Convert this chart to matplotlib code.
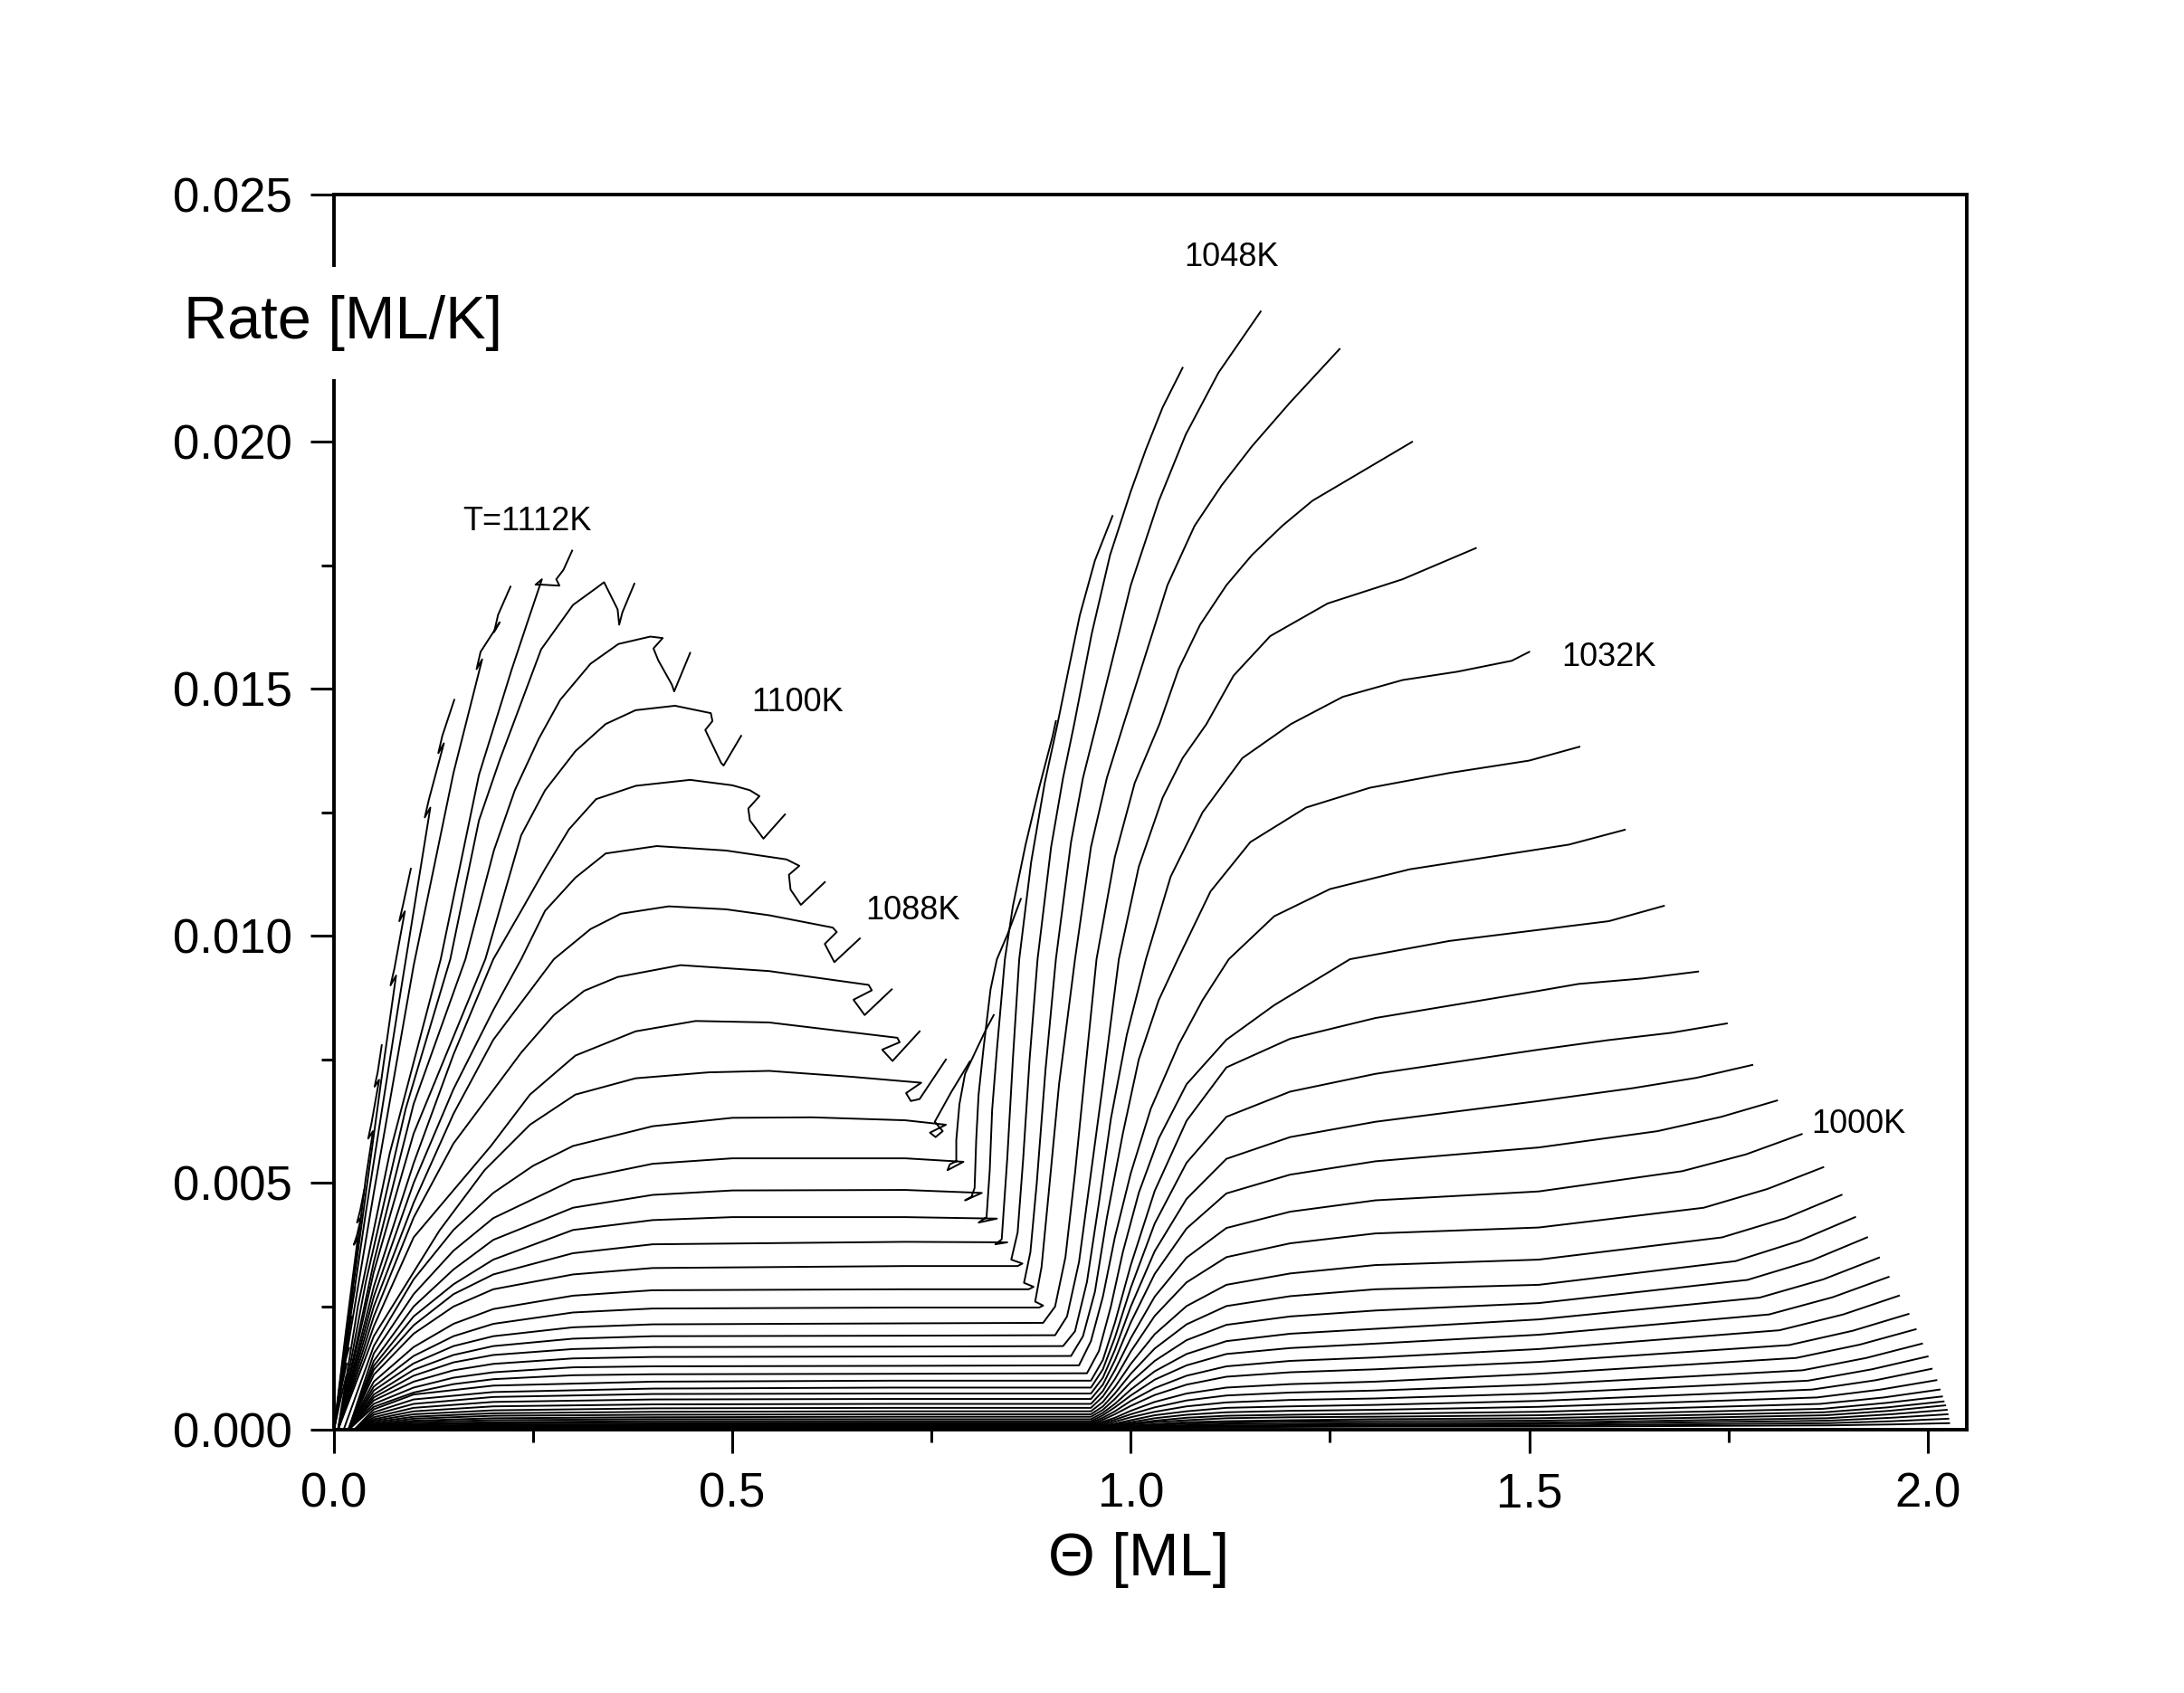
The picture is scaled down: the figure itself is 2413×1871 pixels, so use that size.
import matplotlib
matplotlib.use("Agg")
import matplotlib.pyplot as plt
from matplotlib.ticker import MultipleLocator, FormatStrFormatter

plt.rcParams['font.family'] = ['Liberation Sans', 'DejaVu Sans']

# all rates below are in units of 1e-3 ML/K, coverage theta in ML

# hottest curves (1144K .. 1116K): steep lines with small zig-zags at the top
z_temps = [1144, 1140, 1136, 1132, 1128, 1124, 1120, 1116]
z_theta = [
    [0, 0.008, 0.0155],
    [0, 0.010, 0.016, 0.012, 0.015, 0.019],
    [0, 0.012, 0.022, 0.018, 0.021, 0.0265],
    [0, 0.015, 0.030, 0.025, 0.029, 0.034, 0.029, 0.033, 0.038],
    [0, 0.02, 0.04, 0.049, 0.043, 0.047, 0.0568, 0.051, 0.055, 0.060],
    [0, 0.03, 0.06, 0.078, 0.071, 0.076, 0.089, 0.082, 0.087, 0.0965],
    [0, 0.04, 0.08, 0.121, 0.114, 0.119, 0.138, 0.131, 0.136, 0.151],
    [0, 0.05, 0.1, 0.15, 0.186, 0.179, 0.184, 0.208, 0.201, 0.206, 0.2215],
]
z_rate = [
    [0, 0.6, 1.1],
    [0, 0.9, 1.35, 1.3, 1.45, 1.66],
    [0, 1.3, 2.3, 2.2, 2.4, 2.88],
    [0, 2.0, 3.9, 3.75, 3.95, 4.3, 4.2, 4.45, 4.86],
    [0, 2.5, 5.1, 6.05, 5.9, 6.2, 7.09, 6.95, 7.25, 7.79],
    [0, 3.6, 7.15, 9.2, 9.0, 9.35, 10.5, 10.3, 10.65, 11.36],
    [0, 4.4, 8.5, 12.6, 12.4, 12.75, 13.9, 13.7, 14.05, 14.78],
    [0, 4.8, 9.4, 13.3, 15.6, 15.4, 15.75, 16.35, 16.15, 16.5, 17.07],
]

# 1112K .. 1072K: rise, maximum, hook at the end
h_temps = [1112, 1108, 1104, 1100, 1096, 1092, 1088, 1084, 1080, 1076, 1072]
h_theta = [
    [0.005, 0.03, 0.07, 0.134, 0.182, 0.223, 0.242, 0.261, 0.253, 0.262, 0.283, 0.279, 0.288, 0.299],
    [0.005, 0.04, 0.09, 0.146, 0.182, 0.208, 0.26, 0.30, 0.329, 0.339, 0.356, 0.358, 0.362, 0.377],
    [0.005, 0.05, 0.10, 0.165, 0.2007, 0.227, 0.257, 0.284, 0.322, 0.357, 0.397, 0.4126, 0.401, 0.407,
     0.424, 0.427, 0.447],
    [0.005, 0.05, 0.10, 0.19, 0.235, 0.265, 0.303, 0.341, 0.3785, 0.428, 0.473, 0.475, 0.466, 0.486,
     0.489, 0.511],
    [0.005, 0.05, 0.10, 0.15, 0.2, 0.235, 0.265, 0.295, 0.329, 0.379, 0.447, 0.50, 0.522, 0.534, 0.520,
     0.522, 0.539, 0.566],
    [0.005, 0.05, 0.10, 0.15, 0.20, 0.235, 0.265, 0.303, 0.341, 0.405, 0.492, 0.568, 0.584, 0.571, 0.573,
     0.586, 0.616],
    [0.005, 0.05, 0.10, 0.15, 0.20, 0.276, 0.322, 0.360, 0.420, 0.492, 0.546, 0.626, 0.631, 0.616,
     0.628, 0.660],
    [0.005, 0.05, 0.10, 0.15, 0.235, 0.276, 0.314, 0.356, 0.435, 0.546, 0.671, 0.675, 0.652, 0.666, 0.70],
    [0.005, 0.05, 0.10, 0.197, 0.246, 0.303, 0.3785, 0.454, 0.546, 0.707, 0.71, 0.688, 0.701, 0.735],
    [0.005, 0.05, 0.1325, 0.189, 0.246, 0.303, 0.3785, 0.47, 0.546, 0.65, 0.737, 0.718, 0.724, 0.735,
     0.768],
    [0.012, 0.05, 0.1, 0.15, 0.2, 0.25, 0.3, 0.4, 0.5, 0.6, 0.717, 0.768, 0.748, 0.755, 0.764, 0.754,
     0.775, 0.798],
]
h_rate = [
    [0, 2.5, 5.6, 9.53, 13.26, 15.39, 16.31, 17.22, 17.11, 17.11, 17.09, 17.22, 17.41, 17.8],
    [0, 3.0, 6.5, 9.53, 12.34, 13.56, 15.8, 16.7, 17.04, 17.16, 16.61, 16.3, 16.55, 17.13],
    [0, 3.4, 6.6, 9.53, 11.73, 12.95, 13.99, 14.78, 15.51, 15.91, 16.06, 16.03, 15.82, 15.58, 15.09,
     14.95, 15.73],
    [0, 3.2, 6.0, 9.53, 12.04, 12.95, 13.74, 14.29, 14.57, 14.66, 14.51, 14.35, 14.17, 13.5, 13.45, 14.05],
    [0, 2.9, 5.4, 7.6, 9.53, 10.51, 11.36, 12.16, 12.77, 13.04, 13.16, 13.05, 12.95, 12.83, 12.58,
     12.34, 11.97, 12.46],
    [0, 2.7, 5.0, 6.9, 8.5, 9.53, 10.51, 11.18, 11.67, 11.82, 11.73, 11.55, 11.42, 11.24, 10.94,
     10.63, 11.09],
    [0, 2.5, 4.6, 6.4, 7.9, 9.53, 10.14, 10.45, 10.6, 10.54, 10.42, 10.17, 10.08, 9.84, 9.47, 9.95],
    [0, 2.3, 4.3, 5.8, 7.64, 8.4, 8.89, 9.17, 9.41, 9.29, 9.01, 8.9, 8.71, 8.4, 8.92],
    [0, 2.1, 3.9, 5.75, 6.79, 7.58, 8.07, 8.28, 8.25, 7.94, 7.85, 7.7, 7.47, 8.07],
    [0, 1.9, 4.04, 5.26, 6.18, 6.79, 7.12, 7.24, 7.27, 7.15, 7.03, 6.82, 6.66, 6.70, 7.5],
    [0, 1.7, 3.05, 4.05, 4.8, 5.35, 5.75, 6.15, 6.32, 6.33, 6.27, 6.18, 6.02, 5.93, 6.05, 6.24,
     6.85, 7.46],
]

# 1068K .. 1020K: plateau, then steep second rise
t_temps = [1068, 1064, 1060, 1056, 1052, 1048, 1044, 1040, 1036, 1032, 1028, 1024, 1020]
t_theta = [
    [0.018, 0.05, 0.1, 0.15, 0.2, 0.3, 0.4, 0.5, 0.717, 0.790, 0.770, 0.773, 0.781, 0.781, 0.785,
     0.792, 0.808, 0.819, 0.828],
    [0.018, 0.05, 0.1, 0.15, 0.2, 0.3, 0.4, 0.5, 0.717, 0.813, 0.792, 0.800, 0.804, 0.806, 0.809,
     0.815, 0.824, 0.832, 0.845, 0.862],
    [0.018, 0.05, 0.1, 0.15, 0.2, 0.3, 0.4, 0.5, 0.717, 0.832, 0.809, 0.819, 0.823, 0.826, 0.832,
     0.842, 0.852, 0.868, 0.885, 0.902, 0.906],
    [0.018, 0.05, 0.1, 0.15, 0.2, 0.3, 0.4, 0.717, 0.845, 0.830, 0.838, 0.845, 0.852, 0.860, 0.875,
     0.892, 0.908, 0.922, 0.936, 0.955, 0.977],
    [0.018, 0.05, 0.1, 0.15, 0.2, 0.3, 0.4, 0.717, 0.858, 0.864, 0.850, 0.858, 0.865, 0.873, 0.883,
     0.900, 0.915, 0.929, 0.951, 0.974, 1.000, 1.019, 1.040, 1.065],
    [0.018, 0.05, 0.1, 0.15, 0.2, 0.3, 0.4, 0.717, 0.872, 0.878, 0.866, 0.874, 0.882, 0.893, 0.906,
     0.925, 0.940, 0.957, 0.985, 1.000, 1.035, 1.069, 1.110, 1.163],
    [0.018, 0.05, 0.1, 0.15, 0.2, 0.3, 0.4, 0.717, 0.885, 0.890, 0.880, 0.888, 0.897, 0.910, 0.930,
     0.950, 0.970, 0.991, 1.027, 1.046, 1.080, 1.114, 1.152, 1.200, 1.262],
    [0.018, 0.05, 0.1, 0.15, 0.2, 0.3, 0.4, 0.717, 0.890, 0.905, 0.918, 0.930, 0.943, 0.957, 0.980,
     1.005, 1.036, 1.060, 1.087, 1.120, 1.152, 1.190, 1.228, 1.290, 1.353],
    [0.018, 0.05, 0.1, 0.15, 0.2, 0.3, 0.4, 0.717, 0.905, 0.920, 0.935, 0.950, 0.965, 0.985, 1.010,
     1.040, 1.065, 1.095, 1.129, 1.175, 1.247, 1.341, 1.433],
    [0.018, 0.05, 0.1, 0.15, 0.2, 0.3, 0.4, 0.717, 0.915, 0.930, 0.945, 0.960, 0.975, 0.995, 1.019,
     1.050, 1.090, 1.140, 1.201, 1.266, 1.341, 1.410, 1.478, 1.500],
    [0.018, 0.05, 0.1, 0.15, 0.2, 0.3, 0.4, 0.717, 0.925, 0.940, 0.955, 0.970, 0.990, 1.010, 1.035,
     1.059, 1.100, 1.150, 1.220, 1.300, 1.400, 1.500, 1.563],
    [0.018, 0.05, 0.1, 0.15, 0.2, 0.3, 0.4, 0.717, 0.935, 0.950, 0.965, 0.980, 1.000, 1.025, 1.060,
     1.090, 1.123, 1.180, 1.250, 1.350, 1.450, 1.550, 1.620],
    [0.018, 0.05, 0.1, 0.15, 0.2, 0.3, 0.4, 0.717, 0.945, 0.960, 0.975, 0.990, 1.010, 1.035, 1.070,
     1.120, 1.180, 1.275, 1.400, 1.500, 1.600, 1.669],
]
t_rate = [
    [0, 1.55, 2.75, 3.63, 4.29, 5.06, 5.39, 5.50, 5.50, 5.43, 5.26, 5.38, 5.44, 5.87, 6.60, 7.21,
     7.76, 8.13, 8.40],
    [0, 1.40, 2.50, 3.25, 3.85, 4.50, 4.76, 4.85, 4.86, 4.80, 4.65, 4.72, 4.90, 5.87, 6.79, 7.70,
     8.92, 9.53, 10.02, 10.75],
    [0, 1.30, 2.30, 2.95, 3.45, 4.05, 4.25, 4.31, 4.31, 4.28, 4.20, 4.31, 5.26, 6.48, 7.70, 9.53,
     10.60, 11.85, 13.00, 14.05, 14.35],
    [0, 1.22, 2.12, 2.75, 3.15, 3.58, 3.76, 3.81, 3.80, 3.76, 3.86, 5.50, 7.50, 9.53, 11.50, 13.10,
     14.29, 15.40, 16.49, 17.60, 18.50],
    [0, 1.12, 1.95, 2.50, 2.85, 3.15, 3.28, 3.32, 3.32, 3.37, 3.45, 4.00, 5.50, 7.50, 9.53, 11.80,
     13.20, 14.29, 16.12, 17.71, 19.00, 19.85, 20.70, 21.50],
    [0, 0.98, 1.68, 2.15, 2.45, 2.72, 2.83, 2.85, 2.85, 2.90, 2.98, 3.60, 5.00, 7.30, 9.53, 11.90,
     13.20, 14.29, 16.12, 17.10, 18.80, 20.15, 21.40, 22.64],
    [0, 0.88, 1.50, 1.90, 2.15, 2.38, 2.46, 2.48, 2.48, 2.52, 2.60, 3.30, 4.80, 7.00, 9.53, 11.80,
     13.20, 14.29, 16.12, 17.10, 18.30, 19.12, 19.91, 20.80, 21.88],
    [0, 0.80, 1.35, 1.70, 1.90, 2.08, 2.14, 2.16, 2.17, 2.50, 3.50, 5.20, 7.30, 9.53, 11.60, 13.10,
     14.29, 15.40, 16.30, 17.10, 17.71, 18.30, 18.81, 19.40, 20.00],
    [0, 0.72, 1.22, 1.52, 1.70, 1.85, 1.90, 1.91, 1.92, 2.30, 3.40, 5.20, 7.00, 9.53, 11.40, 12.80,
     13.60, 14.29, 15.27, 16.07, 16.73, 17.22, 17.85],
    [0, 0.66, 1.10, 1.37, 1.52, 1.64, 1.68, 1.69, 1.70, 2.00, 3.00, 4.60, 6.30, 8.00, 9.53, 11.20,
     12.50, 13.60, 14.29, 14.84, 15.18, 15.35, 15.57, 15.75],
    [0, 0.60, 0.98, 1.21, 1.34, 1.45, 1.48, 1.49, 1.50, 1.90, 2.80, 4.30, 6.00, 7.50, 8.70, 9.53,
     10.90, 11.90, 12.60, 13.00, 13.30, 13.55, 13.83],
    [0, 0.53, 0.86, 1.06, 1.17, 1.27, 1.29, 1.30, 1.31, 1.80, 2.70, 3.90, 5.20, 6.50, 7.80, 8.70,
     9.53, 10.40, 10.95, 11.35, 11.60, 11.85, 12.15],
    [0, 0.47, 0.76, 0.93, 1.03, 1.11, 1.13, 1.14, 1.15, 1.60, 2.50, 3.60, 4.80, 5.90, 7.00, 7.90,
     8.60, 9.53, 9.90, 10.10, 10.30, 10.61],
]

# 1016K .. 916K: low plateau, smooth rise near 1 ML, ends spread to the right
low_temps = [1016, 1012, 1008, 1004, 1000, 996, 992, 988, 984, 980, 976, 972, 968,
             964, 960, 956, 952, 948, 944, 940, 936, 932, 928, 924, 920, 916]
low_theta = [0.025, 0.05, 0.1, 0.2, 0.4, 0.7, 0.95, 0.965, 0.98, 1.0, 1.03, 1.07, 1.12, 1.2,
             1.307, 1.512]
low_tail_theta = [
    [1.562, 1.642, 1.712], [1.598, 1.678, 1.748], [1.630, 1.710, 1.780], [1.661, 1.741, 1.811],
    [1.692, 1.772, 1.842], [1.719, 1.799, 1.869], [1.742, 1.822, 1.892], [1.759, 1.839, 1.909],
    [1.774, 1.854, 1.924], [1.789, 1.869, 1.939], [1.801, 1.881, 1.951], [1.814, 1.894, 1.964],
    [1.826, 1.906, 1.976], [1.835, 1.915, 1.985], [1.843, 1.923, 1.993], [1.850, 1.930, 2.000],
    [1.855, 1.935, 2.005], [1.861, 1.941, 2.011], [1.865, 1.945, 2.015], [1.868, 1.948, 2.018],
    [1.870, 1.950, 2.020], [1.872, 1.952, 2.022], [1.874, 1.954, 2.024], [1.875, 1.955, 2.025],
    [1.876, 1.956, 2.026], [1.877, 1.957, 2.027],
]
low_rate = [
    [0, 0.42, 0.72, 0.90, 0.98, 1.00, 1.00, 1.42, 2.17, 3.34, 4.84, 6.26, 7.34, 7.92, 8.34, 8.89, 9.03, 9.14, 9.28],
    [0, 0.36, 0.62, 0.77, 0.84, 0.86, 0.86, 1.23, 1.87, 2.88, 4.18, 5.41, 6.34, 6.85, 7.21, 7.70, 7.89, 8.04, 8.23],
    [0, 0.31, 0.53, 0.67, 0.73, 0.74, 0.74, 1.06, 1.62, 2.50, 3.62, 4.68, 5.49, 5.93, 6.24, 6.66, 6.92, 7.13, 7.39],
    [0, 0.26, 0.45, 0.57, 0.62, 0.63, 0.63, 0.92, 1.41, 2.18, 3.16, 4.08, 4.79, 5.17, 5.44, 5.72, 6.05, 6.34, 6.67],
    [0, 0.22, 0.38, 0.48, 0.52, 0.53, 0.53, 0.79, 1.21, 1.86, 2.70, 3.49, 4.09, 4.42, 4.65, 4.83, 5.24, 5.58, 5.99],
    [0, 0.19, 0.32, 0.40, 0.44, 0.45, 0.45, 0.68, 1.03, 1.59, 2.31, 2.99, 3.50, 3.78, 3.98, 4.10, 4.50, 4.88, 5.32],
    [0, 0.16, 0.27, 0.34, 0.37, 0.38, 0.38, 0.57, 0.87, 1.34, 1.94, 2.51, 2.94, 3.17, 3.34, 3.45, 3.90, 4.29, 4.76],
    [0, 0.13, 0.23, 0.29, 0.31, 0.32, 0.32, 0.48, 0.74, 1.14, 1.65, 2.14, 2.51, 2.71, 2.85, 2.94, 3.42, 3.83, 4.31],
    [0, 0.11, 0.19, 0.24, 0.26, 0.27, 0.27, 0.41, 0.63, 0.97, 1.40, 1.82, 2.13, 2.30, 2.42, 2.57, 3.04, 3.43, 3.90],
    [0, 0.09, 0.16, 0.20, 0.22, 0.22, 0.22, 0.35, 0.53, 0.82, 1.19, 1.54, 1.80, 1.95, 2.05, 2.24, 2.68, 3.05, 3.49],
    [0, 0.08, 0.13, 0.16, 0.18, 0.18, 0.18, 0.30, 0.46, 0.70, 1.02, 1.31, 1.54, 1.66, 1.75, 1.93, 2.34, 2.69, 3.10],
    [0, 0.06, 0.11, 0.135, 0.147, 0.15, 0.15, 0.25, 0.38, 0.59, 0.85, 1.10, 1.29, 1.40, 1.47, 1.64, 2.02, 2.34, 2.72],
    [0, 0.05, 0.086, 0.108, 0.118, 0.12, 0.12, 0.21, 0.32, 0.49, 0.71, 0.92, 1.08, 1.17, 1.23, 1.38, 1.72, 2.01, 2.35],
    [0, 0.042, 0.072, 0.09, 0.098, 0.10, 0.10, 0.17, 0.25, 0.39, 0.57, 0.74, 0.86, 0.93, 0.98, 1.14, 1.46, 1.73, 2.04],
    [0, 0.034, 0.058, 0.072, 0.078, 0.08, 0.08, 0.14, 0.21, 0.32, 0.46, 0.60, 0.70, 0.76, 0.80, 0.92, 1.21, 1.46, 1.75],
    [0, 0.027, 0.047, 0.058, 0.064, 0.065, 0.065, 0.11, 0.17, 0.26, 0.37, 0.48, 0.56, 0.61, 0.64, 0.74, 1.00, 1.23, 1.49],
    [0, 0.021, 0.036, 0.045, 0.049, 0.05, 0.05, 0.087, 0.13, 0.20, 0.30, 0.38, 0.45, 0.48, 0.51, 0.59, 0.82, 1.01, 1.24],
    [0, 0.017, 0.029, 0.036, 0.039, 0.04, 0.04, 0.07, 0.11, 0.16, 0.24, 0.31, 0.36, 0.39, 0.41, 0.47, 0.66, 0.82, 1.01],
    [0, 0.013, 0.023, 0.029, 0.031, 0.032, 0.032, 0.056, 0.086, 0.13, 0.19, 0.25, 0.29, 0.31, 0.33, 0.37, 0.53, 0.66, 0.82],
    [0, 0.011, 0.018, 0.023, 0.025, 0.025, 0.025, 0.046, 0.07, 0.11, 0.16, 0.20, 0.24, 0.26, 0.27, 0.30, 0.43, 0.55, 0.68],
    [0, 0.008, 0.014, 0.018, 0.02, 0.02, 0.02, 0.037, 0.057, 0.088, 0.12, 0.16, 0.18, 0.20, 0.22, 0.24, 0.36, 0.46, 0.58],
    [0, 0.007, 0.012, 0.014, 0.016, 0.016, 0.016, 0.031, 0.047, 0.072, 0.099, 0.13, 0.15, 0.17, 0.18, 0.19, 0.30, 0.39, 0.50],
    [0, 0.005, 0.009, 0.011, 0.012, 0.012, 0.012, 0.024, 0.036, 0.056, 0.077, 0.099, 0.12, 0.13, 0.14, 0.15, 0.24, 0.32, 0.41],
    [0, 0.004, 0.007, 0.009, 0.01, 0.01, 0.01, 0.019, 0.029, 0.044, 0.06, 0.078, 0.091, 0.10, 0.11, 0.12, 0.19, 0.25, 0.32],
    [0, 0.003, 0.006, 0.007, 0.008, 0.008, 0.008, 0.015, 0.023, 0.036, 0.05, 0.064, 0.075, 0.083, 0.09, 0.09, 0.14, 0.18, 0.23],
    [0, 0.0025, 0.004, 0.005, 0.006, 0.006, 0.006, 0.012, 0.018, 0.028, 0.039, 0.05, 0.058, 0.064, 0.07, 0.07, 0.095, 0.115, 0.14],
]

# temperature labels written next to some curves
label_text = ['T=1112K', '1100K', '1088K', '1048K', '1032K', '1000K']
label_theta = [0.162, 0.524, 0.667, 1.067, 1.540, 1.854]
label_rate = [18.38, 14.72, 10.51, 23.73, 15.64, 6.19]

SCALE = 1e-3
LW = 1.4

fig = plt.figure(figsize=(24.13, 18.71), dpi=100)
ax = fig.add_axes([0.1529, 0.1553, 0.7476, 0.7296])

for th, r in zip(z_theta, z_rate):
    ax.plot(th, [v * SCALE for v in r], color='black', lw=LW)
for th, r in zip(h_theta, h_rate):
    ax.plot(th, [v * SCALE for v in r], color='black', lw=LW)
for th, r in zip(t_theta, t_rate):
    ax.plot(th, [v * SCALE for v in r], color='black', lw=LW)
for tail, r in zip(low_tail_theta, low_rate):
    ax.plot(low_theta + tail, [v * SCALE for v in r], color='black', lw=LW)

for txt, x, y in zip(label_text, label_theta, label_rate):
    ax.text(x, y * SCALE, txt, fontsize=26, ha='left', va='center')

ax.set_xlim(0, 2.049)
ax.set_ylim(0, 0.025)
ax.xaxis.set_major_locator(MultipleLocator(0.5))
ax.xaxis.set_minor_locator(MultipleLocator(0.25))
ax.yaxis.set_major_locator(MultipleLocator(0.005))
ax.yaxis.set_minor_locator(MultipleLocator(0.0025))
ax.xaxis.set_major_formatter(FormatStrFormatter('%.1f'))
ax.yaxis.set_major_formatter(FormatStrFormatter('%.3f'))
ax.tick_params(which='both', direction='out', top=False, right=False, width=2.2)
ax.tick_params(which='major', length=19, labelsize=38, pad=14)
ax.tick_params(which='minor', length=10)
for sp in ax.spines.values():
    sp.set_linewidth(2.8)

# y label sits on top of the left axis line, hiding part of it
fig.text(0.0841, 0.8092, 'Rate [ML/K]', fontsize=48, ha='left', va='center',
         bbox=dict(facecolor='white', edgecolor='none', pad=22))
fig.text(0.5214, 0.0787, '\u0398 [ML]', fontsize=48, ha='center', va='center')

fig.savefig('out.png', dpi=100, facecolor='white')
